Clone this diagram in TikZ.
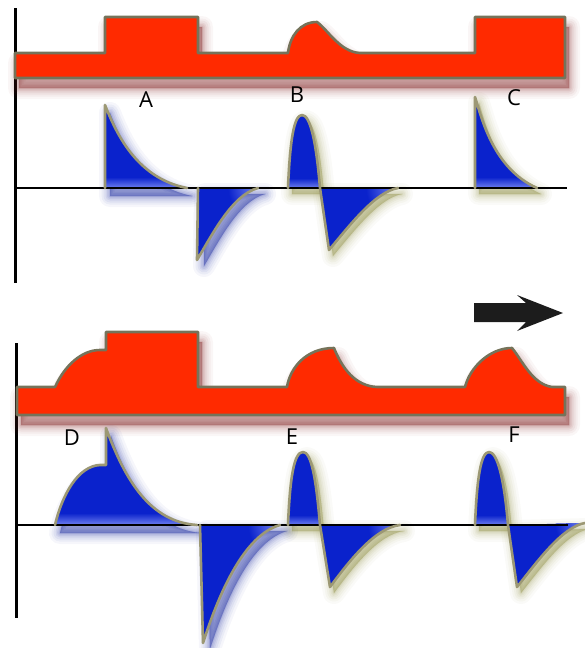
\documentclass[tikz,border=0pt]{standalone}
\usepackage{fontspec}
\setmainfont{Open Sans}
\definecolor{redfill}{HTML}{FF2A00}
\definecolor{bluefill}{HTML}{0A22CC}
\definecolor{bluelight}{HTML}{7888F2}
\definecolor{rededge}{HTML}{75735A}
\definecolor{blueedge}{HTML}{9C9874}
\definecolor{redshadow}{HTML}{802020}
\definecolor{blueshadow}{HTML}{10209A}
\definecolor{oliveglow}{HTML}{8C8C40}
\definecolor{arrowfill}{HTML}{1C1C1C}
\newcommand\softglow[3]{\foreach \w/\o in {22/0.04,17/0.05,13/0.06,9/0.07,6/0.08,3/0.09,1/0.1}{\path[fill=#1,draw=#1,line width=\w pt,line join=round,opacity=\o,shift={#2}] #3;}}
% red shapes
\def\rTop{(15,53) -- (105,53) -- (105,17) -- (198,17) -- (198,53) -- (288,53) .. controls (290,36) and (300,22) .. (317,22) .. controls (328,30) and (340,52) .. (360,53) -- (475,53) -- (475,17) -- (565,17) -- (565,78) -- (15,78) -- cycle}
\def\rBot{(17,387) -- (55,387) .. controls (65,365) and (82,350) .. (100,350) -- (106,350) -- (106,332) -- (198,332) -- (198,387) -- (287,387) .. controls (290,368) and (306,348) .. (334,348) .. controls (342,368) and (355,386) .. (377,387) -- (465,387) .. controls (470,367) and (490,348) .. (512,348) .. controls (522,360) and (532,384) .. (552,387) -- (565,387) -- (565,415) -- (17,415) -- cycle}
% top lobes
\def\oA{(105,188) -- (105,105) .. controls (115,130) and (135,178) .. (187,188)}
\def\oAn{(198,188) -- (197,260) .. controls (212,235) and (232,195) .. (258,188)}
\def\oBp{(288,188) .. controls (290,140) and (294,115) .. (302,115) .. controls (310,115) and (316,140) .. (320,188)}
\def\oBn{(320,188) -- (329,250) .. controls (350,225) and (375,192) .. (398,188)}
\def\oC{(475,188) -- (475,97) .. controls (481,115) and (492,168) .. (537,188)}
% bottom lobes
\def\oD{(55,525) .. controls (62,495) and (78,466) .. (100,465) -- (106,465) -- (106,428) .. controls (125,480) and (150,522) .. (197,525)}
\def\oDn{(200,525) -- (203,643) .. controls (220,590) and (245,535) .. (280,525)}
\def\oEp{(288,525) .. controls (290,477) and (294,452) .. (303,452) .. controls (311,452) and (316,477) .. (320,525)}
\def\oEn{(320,525) -- (330,587) .. controls (350,560) and (375,528) .. (400,525)}
\def\oFp{(475,525) .. controls (477,477) and (481,452) .. (489,452) .. controls (497,452) and (504,477) .. (508,525)}
\def\oFn{(508,525) -- (517,587) .. controls (537,562) and (562,527) .. (585,523)}
\begin{document}
\begin{tikzpicture}[x=1pt,y=-1pt,
  redshape/.style={fill=redfill,draw=rededge,line width=2.6pt,line join=round},
  lobeedge/.style={draw=blueedge,line width=2.6pt,line join=round,line cap=round},
  axisline/.style={draw=black,line width=3pt},
  lbl/.style={font=\fontsize{22}{22}\selectfont,inner sep=0pt}]
\useasboundingbox (0,0) rectangle (585,648);
% ---------- top panel ----------
\draw[axisline] (15,8) -- (15,283);
\softglow{redshadow}{(4,10)}{\rTop}
\path[redshape] \rTop;
% lobes shadows
\softglow{blueshadow}{(5,8)}{\oA -- cycle}
\softglow{blueshadow}{(7,6)}{\oAn -- cycle}
\softglow{oliveglow}{(4,6)}{\oBp -- cycle}
\softglow{oliveglow}{(4,6)}{\oBn -- cycle}
\softglow{oliveglow}{(4,6)}{\oC -- cycle}
% fills
\fill[bluefill] \oA -- cycle;
\fill[bluefill] \oAn -- cycle;
\fill[bluefill] \oBp -- cycle;
\fill[bluefill] \oBn -- cycle;
\fill[bluefill] \oC -- cycle;
\begin{scope}\clip \oA -- cycle; \shade[top color=bluefill,bottom color=bluelight] (95,177) rectangle (200,189);\end{scope}
\begin{scope}\clip \oC -- cycle; \shade[top color=bluefill,bottom color=bluelight] (465,177) rectangle (545,189);\end{scope}
\begin{scope}\clip \oBp -- cycle; \shade[top color=bluefill,bottom color=bluelight] (280,178) rectangle (325,189);\end{scope}
\begin{scope}\clip \oAn -- cycle; \shade[inner color=bluelight,outer color=bluefill] (258,188) circle (30);\end{scope}
\begin{scope}\clip \oBn -- cycle; \shade[inner color=bluelight,outer color=bluefill] (398,188) circle (32);\end{scope}
\draw[line width=2.8pt] (15,188) -- (567,188);
\path[lobeedge] \oA;
\path[lobeedge] \oAn;
\path[lobeedge] \oBp -- (329,250) .. controls (350,225) and (375,192) .. (398,188);
\path[lobeedge] \oC;
\node[lbl] (la) at (146,100) {A};
\node[lbl] (lb) at (297,95) {B};
\node[lbl] (lc) at (514,98) {C};
% ---------- arrow ----------
\fill[arrowfill] (474,303) -- (526,303) -- (517,295) -- (563,313) -- (517,331) -- (526,322) -- (474,322) -- cycle;
% ---------- bottom panel ----------
\draw[axisline] (16,343) -- (16,618);
\softglow{redshadow}{(4,10)}{\rBot}
\path[redshape] \rBot;
\softglow{blueshadow}{(5,8)}{\oD -- cycle}
\softglow{blueshadow}{(7,6)}{\oDn -- cycle}
\softglow{oliveglow}{(4,6)}{\oEp -- cycle}
\softglow{oliveglow}{(4,6)}{\oEn -- cycle}
\softglow{oliveglow}{(4,6)}{\oFp -- cycle}
\softglow{oliveglow}{(4,6)}{\oFn -- cycle}
\fill[bluefill] \oD -- cycle;
\fill[bluefill] \oDn -- cycle;
\fill[bluefill] \oEp -- cycle;
\fill[bluefill] \oEn -- cycle;
\fill[bluefill] \oFp -- cycle;
\fill[bluefill] \oFn -- cycle;
\begin{scope}\clip \oD -- cycle; \shade[top color=bluefill,bottom color=bluelight] (45,513) rectangle (210,526);\end{scope}
\begin{scope}\clip \oEp -- cycle; \shade[top color=bluefill,bottom color=bluelight] (280,515) rectangle (325,526);\end{scope}
\begin{scope}\clip \oFp -- cycle; \shade[top color=bluefill,bottom color=bluelight] (468,515) rectangle (512,526);\end{scope}
\begin{scope}\clip \oDn -- cycle; \shade[inner color=bluelight,outer color=bluefill] (280,525) circle (32);\end{scope}
\begin{scope}\clip \oEn -- cycle; \shade[inner color=bluelight,outer color=bluefill] (400,525) circle (32);\end{scope}
\begin{scope}\clip \oFn -- cycle; \shade[inner color=bluelight,outer color=bluefill] (585,523) circle (30);\end{scope}
\draw[line width=2.8pt] (16,525) -- (568,525);
\path[lobeedge] \oD;
\path[lobeedge] \oDn;
\path[lobeedge] \oEp -- (330,587) .. controls (350,560) and (375,528) .. (400,525);
\path[lobeedge] \oFp -- (517,587) .. controls (537,562) and (562,527) .. (585,523);
\node[lbl] (ld) at (72,438) {D};
\node[lbl] (le) at (292,437) {E};
\node[lbl] (lf) at (514,435) {F};
\end{tikzpicture}
\end{document}
